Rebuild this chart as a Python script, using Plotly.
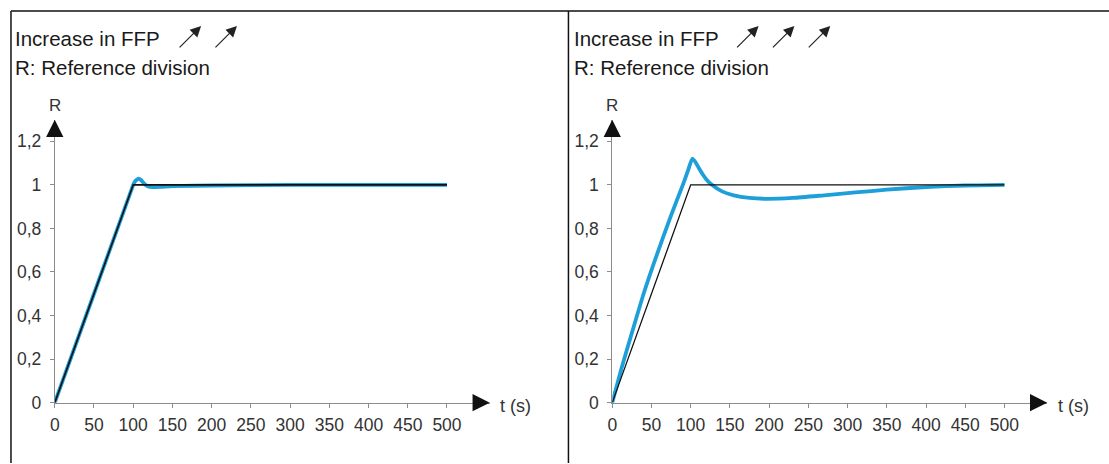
import plotly.graph_objects as go

# ---------------- data ----------------
t_ref = [0, 100, 500]
r_ref = [0, 1, 1]

t_left = [0, 50, 97, 101, 104, 107, 110, 114, 119, 125, 135, 150, 200, 300, 500]
r_left = [0, 0.5, 0.97, 1.008, 1.022, 1.028, 1.022, 1.005, 0.993, 0.99, 0.991, 0.994, 0.997, 1.0, 1.0]

t_right = [0, 12, 25, 40, 55, 75, 90, 97, 102, 105, 110, 115, 120, 127, 140, 155, 175, 195,
           230, 270, 310, 350, 400, 450, 500]
r_right = [0, 0.16, 0.32, 0.5, 0.66, 0.86, 1.0, 1.07, 1.12, 1.11, 1.08, 1.05, 1.025, 1.0, 0.97,
           0.952, 0.94, 0.936, 0.94, 0.952, 0.965, 0.978, 0.99, 0.997, 1.0]

x_ticks = [0, 50, 100, 150, 200, 250, 300, 350, 400, 450, 500]
y_ticks = [0, 0.2, 0.4, 0.6, 0.8, 1.0, 1.2]
y_tick_text = ["0", "0,2", "0,4", "0,6", "0,8", "1", "1,2"]

header_line1 = "Increase in FFP"
header_line2 = "R: Reference division"

# ---------------- layout helpers ----------------
W = 1109
H_TARGET = 464          # reference picture height (positions below are read in it)
H_LAYOUT = 473          # page height; the photo squeezes the page to 464 px
BLUE = "#1d9fd9"
AX_GRAY = "#8c8c8c"
FONT = "Liberation Sans, Arial, sans-serif"

def px(x):
    return x / W

def py(y):
    return 1 - y / H_TARGET

x_max = 554.6
y_max = 1.299
y_dom = [py(403.5), py(120)]

fig = go.Figure()

for i, (tb, rb) in enumerate([(t_left, r_left), (t_right, r_right)]):
    xa = "x" if i == 0 else "x2"
    ya = "y" if i == 0 else "y2"
    fig.add_trace(go.Scatter(x=tb, y=rb, mode="lines", xaxis=xa, yaxis=ya,
                             line=dict(color=BLUE, width=3.8, shape="spline", smoothing=0.6),
                             showlegend=False, hoverinfo="skip"))
    fig.add_trace(go.Scatter(x=t_ref, y=r_ref, mode="lines", xaxis=xa, yaxis=ya,
                             line=dict(color="#111111", width=1.6 if i == 0 else 1.3),
                             showlegend=False, hoverinfo="skip"))

axis_common_x = dict(range=[0, x_max], showline=True, linecolor=AX_GRAY, linewidth=1,
                     ticks="outside", ticklen=4, tickcolor=AX_GRAY, tickwidth=1,
                     tickvals=x_ticks, showgrid=False, zeroline=False,
                     tickfont=dict(family=FONT, size=17.5, color="#333333"),
                     ticklabelstandoff=2, fixedrange=True)
axis_common_y = dict(range=[0, y_max], domain=y_dom, showline=True, linecolor=AX_GRAY,
                     linewidth=1, ticks="outside", ticklen=4, tickcolor=AX_GRAY, tickwidth=1,
                     tickvals=y_ticks, ticktext=y_tick_text, showgrid=False, zeroline=False,
                     tickfont=dict(family=FONT, size=17.5, color="#333333"),
                     ticklabelstandoff=5, fixedrange=True)

fig.update_layout(
    width=W, height=H_LAYOUT,
    margin=dict(l=0, r=0, t=0, b=0),
    paper_bgcolor="white", plot_bgcolor="white",
    xaxis=dict(domain=[px(50), px(487)], anchor="y", **axis_common_x),
    yaxis=dict(anchor="x", **axis_common_y),
    xaxis2=dict(domain=[px(610), px(1047)], anchor="y2", **axis_common_x),
    yaxis2=dict(anchor="x2", **axis_common_y),
)

annotations = []
shapes = []

# panel borders
shapes.append(dict(type="line", xref="paper", yref="paper", x0=px(6), x1=1.0, y0=py(11), y1=py(11),
                   line=dict(color="#111111", width=1.5)))
shapes.append(dict(type="line", xref="paper", yref="paper", x0=px(6), x1=px(6), y0=py(11), y1=0,
                   line=dict(color="#111111", width=1.5)))
shapes.append(dict(type="line", xref="paper", yref="paper", x0=px(566), x1=px(566), y0=py(11), y1=0,
                   line=dict(color="#111111", width=1.5)))

for i, (xa, ya, off, n_arrows) in enumerate([("x", "y", 0, 2), ("x2", "y2", 560, 3)]):
    # header text
    annotations.append(dict(xref="paper", yref="paper", x=px(8 + off + 2 * i), y=py(39),
                            xanchor="left", yanchor="middle", showarrow=False,
                            text=header_line1, font=dict(family=FONT, size=20.5, color="#1a1a1a")))
    annotations.append(dict(xref="paper", yref="paper", x=px(8 + off + 2 * i), y=py(67.5),
                            xanchor="left", yanchor="middle", showarrow=False,
                            text=header_line2, font=dict(family=FONT, size=20.5, color="#1a1a1a")))
    # small diagonal arrows after header
    for k in range(n_arrows):
        x_tip = 197 + off + 36 * k
        annotations.append(dict(xref="paper", yref="paper", x=px(x_tip), y=py(26),
                                ax=-23, ay=23, axref="pixel", ayref="pixel",
                                showarrow=True, arrowhead=2, arrowsize=1.8, arrowwidth=1.2,
                                arrowcolor="#222222", text=""))
    # axis arrowheads
    annotations.append(dict(xref=xa, yref=ya, x=x_max, y=0, ax=-12, ay=0,
                            showarrow=True, arrowhead=2, arrowsize=2.3, arrowwidth=1.5,
                            arrowcolor="#111111", text=""))
    annotations.append(dict(xref=xa, yref=ya, x=0, y=y_max, ax=0, ay=12,
                            showarrow=True, arrowhead=2, arrowsize=2.3, arrowwidth=1.5,
                            arrowcolor="#111111", text=""))
    # axis labels
    annotations.append(dict(xref="paper", yref="paper", x=px(50 + off), y=py(106),
                            xanchor="center", yanchor="middle", showarrow=False, text="R",
                            font=dict(family=FONT, size=17, color="#333333")))
    annotations.append(dict(xref="paper", yref="paper", x=px(513 + off), y=py(407),
                            xanchor="center", yanchor="middle", showarrow=False, text="t (s)",
                            font=dict(family=FONT, size=18, color="#333333")))

fig.update_layout(annotations=annotations, shapes=shapes)

page_fix = (
    "var s=document.createElement('style');"
    "s.textContent='html,body{margin:0;padding:0;overflow:hidden;}"
    ".plotly-graph-div{display:block;}';"
    "document.head.appendChild(s);"
)

fig.write_html("out.html", config={"displayModeBar": False}, post_script=page_fix)
